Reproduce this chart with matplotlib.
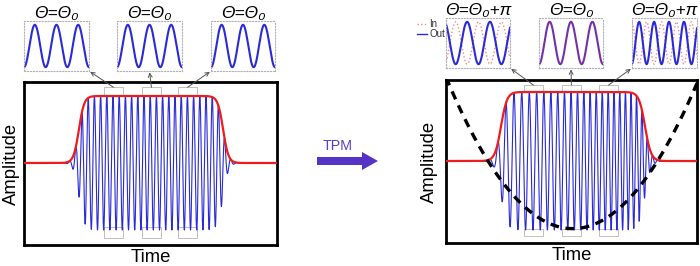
import numpy as np
import matplotlib
matplotlib.use('Agg')
import matplotlib.pyplot as plt
from matplotlib.patches import Rectangle, Polygon
from matplotlib.patches import ConnectionPatch
from matplotlib.lines import Line2D

plt.rcParams['font.family'] = ['Liberation Sans', 'DejaVu Sans']

# ---- main pulses (left: before TPM, right: after TPM) ----
pulse_rise = [0.217, 0.219]        # centre of leading edge (time, 0..1)
pulse_fall = [0.787, 0.793]        # centre of trailing edge
edge_width = [0.0105, 0.012]
carrier_freq = [40.8, 38.5]        # cycles per unit time at t = 0.5
chirp_rate = [0.0, 14.3]           # quadratic phase term (cycles)
first_trough = [0.217, 0.223]

# quadratic phase applied by the TPM (dashed curve, right panel)
tpm_centre = 0.505
tpm_min = -0.98
tpm_curv = 8.6

# zoom windows (time) shown in the insets
window_starts = [[0.316, 0.466, 0.609], [0.311, 0.462, 0.610]]
window_len = 0.075

# ---- insets ----
left_titles = ['Θ=Θ₀', 'Θ=Θ₀', 'Θ=Θ₀']
right_titles = ['Θ=Θ₀+π', 'Θ=Θ₀', 'Θ=Θ₀+π']
left_cycles = [3.0, 3.0, 3.0]
left_peak = [1 / 6, 1 / 6, 1 / 6]
right_cycles = [2.8, 3.0, 4.35]
right_peak = [0.33, 1 / 6, 0.11]
right_shift = [np.pi, 0.0, np.pi]   # phase of "In" relative to "Out"
legend_labels = ['In', 'Out']

BLUE = '#2a2ad8'
RED = '#ee1c1c'
PINK = '#f08a8a'
PURPLE = '#7430a8'

fig = plt.figure(figsize=(7, 2.66), dpi=100)


def px(x, y, w, h):
    return [x / 700, 1 - (y + h) / 266, w / 700, h / 266]


main_boxes = [px(24, 82, 253, 163), px(446, 80, 251, 163)]
ylims = [(-1.224, 1.209), (-1.188, 1.174)]
t = np.linspace(0, 1, 6000)
main_axes = []
for i in range(2):
    ax = fig.add_axes(main_boxes[i])
    env = 1 / (1 + np.exp(-(t - pulse_rise[i]) / edge_width[i])) \
        * 1 / (1 + np.exp((t - pulse_fall[i]) / edge_width[i]))
    s = t - 0.5
    s0 = first_trough[i] - 0.5
    ph = 2 * np.pi * (carrier_freq[i] * (s - s0) + chirp_rate[i] * (s**2 - s0**2)) + np.pi
    ax.plot(t, env * np.cos(ph), color=BLUE, lw=0.8, zorder=3)
    ax.plot(t, env, color=RED, lw=1.6, zorder=5)
    for x0 in window_starts[i]:
        top = (1.0, 0.13) if i == 0 else (1.0, 0.10)
        bot = (-1.12, 0.165) if i == 0 else (-1.087, 0.10)
        ax.add_patch(Rectangle((x0, top[0]), window_len, top[1], fill=False,
                               ec='#b5b5b5', lw=0.6, zorder=1))
        ax.add_patch(Rectangle((x0, bot[0]), window_len, bot[1], fill=False,
                               ec='#b5b5b5', lw=0.6, zorder=1))
    if i == 1:
        ax.plot(t, tpm_curv * (t - tpm_centre) ** 2 + tpm_min, color='black',
                lw=2.4, ls=(0, (2.6, 2.0)), zorder=6)
    ax.set_xlim(0, 1)
    ax.set_ylim(*ylims[i])
    ax.set_xticks([])
    ax.set_yticks([])
    for sp in ax.spines.values():
        sp.set_linewidth(2.0)
    ax.set_xlabel('Time', fontsize=13.3, labelpad=3)
    ax.set_ylabel('Amplitude', fontsize=13.3, labelpad=3 if i == 0 else 6)
    main_axes.append(ax)

# insets
inset_boxes = [[px(24, 21, 65, 50), px(117, 21, 65, 50), px(211, 21, 64, 50)],
               [px(446, 18, 64, 50), px(539, 18, 64, 50), px(632, 18, 65, 50)]]
ti = np.linspace(0, 1, 400)
corners = [(1, 0), (0.5, 0), (0, 0)]
for i in range(2):
    for j in range(3):
        ax = fig.add_axes(inset_boxes[i][j])
        if i == 0:
            ax.plot(ti, np.cos(2 * np.pi * left_cycles[j] * (ti - left_peak[j])),
                    color=BLUE, lw=1.5)
            ax.set_title(left_titles[j], fontsize=12.5, style='italic', pad=2)
        else:
            out = np.cos(2 * np.pi * right_cycles[j] * (ti - right_peak[j]))
            inp = np.cos(2 * np.pi * right_cycles[j] * (ti - right_peak[j]) + right_shift[j])
            if right_shift[j] == 0:
                ax.plot(ti, out, color=PURPLE, lw=1.5)
            else:
                ax.plot(ti, inp, color=PINK, lw=1.0, ls=':')
                ax.plot(ti, out, color=BLUE, lw=1.5)
            ax.set_title(right_titles[j], fontsize=12.5, style='italic', pad=1)
        ax.set_xlim(0, 1)
        ax.set_ylim(-1.18, 1.18)
        ax.set_xticks([])
        ax.set_yticks([])
        for sp in ax.spines.values():
            sp.set_color('#b0b0b8')
            sp.set_linewidth(0.8)
            sp.set_linestyle(':')
        x0 = window_starts[i][j] + window_len / 2
        ytop = 1.13 if i == 0 else 1.10
        con = ConnectionPatch(xyA=(x0, ytop), coordsA=main_axes[i].transData,
                              xyB=corners[j], coordsB=ax.transAxes,
                              arrowstyle='->', color='#555555', lw=0.7,
                              shrinkA=0, shrinkB=1, mutation_scale=7)
        fig.add_artist(con)

# In / Out legend
for k, lab in enumerate(legend_labels):
    yy = 1 - (24 + 10 * k) / 266
    style = dict(color=PINK, lw=1.0, ls=':') if lab == 'In' else dict(color=BLUE, lw=1.0)
    fig.add_artist(Line2D([417 / 700, 427 / 700], [yy, yy], transform=fig.transFigure, **style))
    fig.text(429 / 700, yy, lab, fontsize=7, color='#333333', va='center', ha='left')

# TPM arrow
arrow_px = [(317, 157), (362, 157), (362, 152), (378, 161), (362, 170), (362, 165), (317, 165)]
fig.add_artist(Polygon([(x / 700, 1 - y / 266) for x, y in arrow_px], closed=True,
                       transform=fig.transFigure, fc='#5533c4', ec='none'))
fig.text(338 / 700, 1 - 146 / 266, 'TPM', fontsize=10.3, color='#5a3fc0',
         ha='center', va='center')

fig.savefig('out.png', dpi=100)
